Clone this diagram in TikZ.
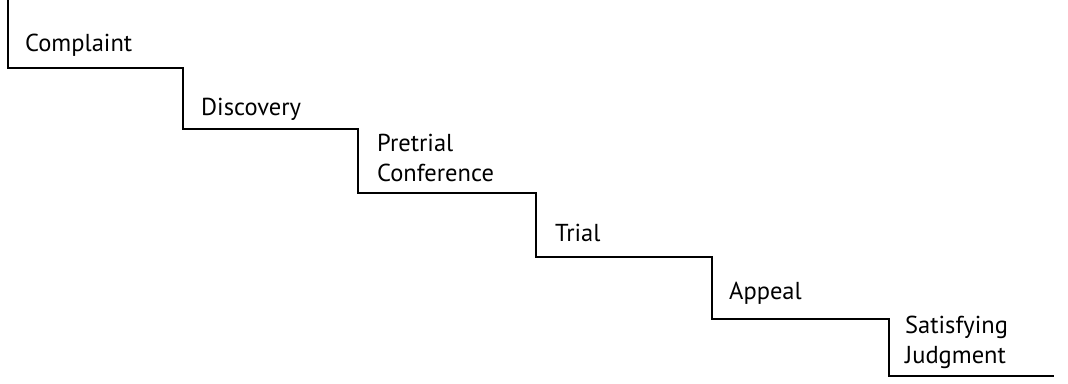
\documentclass[tikz,border=0pt]{standalone}
\usepackage{fontspec}
\setmainfont{PT Sans}
\begin{document}
\begin{tikzpicture}[x=1pt,y=-1pt,
  stair/.style={line width=1.2pt, line join=miter},
  steplabel/.style={anchor=west, inner sep=0pt, align=left, font=\fontsize{24.5}{30}\selectfont}]
\useasboundingbox (0,0) rectangle (1068,383);
% the staircase outline
\draw[stair] (8,0) -- (8,68) -- (183,68) -- (183,129) -- (358,129) -- (358,193)
  -- (536,193) -- (536,257) -- (712,257) -- (712,319) -- (889,319) -- (889,376)
  -- (1054,376);
% labels on each tread
\node[steplabel] (complaint) at (25,45) {Complaint};
\node[steplabel] (discovery) at (201,109) {Discovery};
\node[steplabel] (pretrial) at (377,158) {Pretrial\\Conference};
\node[steplabel] (trial) at (555,233) {Trial};
\node[steplabel] (appeal) at (729,293) {Appeal};
\node[steplabel] (satisfy) at (905,342) {Satisfying\\Judgment};
\end{tikzpicture}
\end{document}
